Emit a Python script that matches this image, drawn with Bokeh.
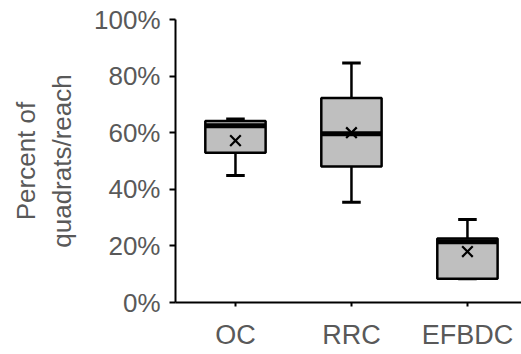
from bokeh.plotting import figure
from bokeh.models import Range1d, FixedTicker, NumeralTickFormatter
from bokeh.embed import file_html
from bokeh.resources import INLINE

categories = ["OC", "RRC", "EFBDC"]
whisker_low = [0.449, 0.354, 0.084]
q1 = [0.529, 0.481, 0.084]
median = [0.625, 0.596, 0.215]
q3 = [0.641, 0.723, 0.226]
whisker_high = [0.648, 0.846, 0.293]
mean = [0.572, 0.600, 0.180]
y_ticks = [0, 0.2, 0.4, 0.6, 0.8, 1.0]

pos = list(range(len(categories)))

p = figure(width=521, height=354, output_backend="svg", toolbar_location=None,
           x_range=Range1d(-0.517, 2.466), y_range=Range1d(0, 1),
           min_border_left=175, min_border_top=19, min_border_right=0,
           min_border_bottom=52)
p.outline_line_color = None
p.grid.grid_line_color = None
p.background_fill_color = "white"

box_w = 0.52
cap_w = 0.16

# whiskers
p.segment(x0=pos, y0=q3, x1=pos, y1=whisker_high, line_color="black", line_width=2.5)
p.segment(x0=pos, y0=whisker_low, x1=pos, y1=q1, line_color="black", line_width=2.5)
p.segment(x0=[x - cap_w / 2 for x in pos], y0=whisker_high,
          x1=[x + cap_w / 2 for x in pos], y1=whisker_high, line_color="black", line_width=3)
p.segment(x0=[x - cap_w / 2 for x in pos], y0=whisker_low,
          x1=[x + cap_w / 2 for x in pos], y1=whisker_low, line_color="black", line_width=3)
# boxes
p.vbar(x=pos, width=box_w, bottom=q1, top=q3, fill_color="#bfbfbf",
       line_color="black", line_width=2.5)
# medians
p.segment(x0=[x - box_w / 2 for x in pos], y0=median,
          x1=[x + box_w / 2 for x in pos], y1=median, line_color="black", line_width=5)
# means
p.scatter(x=pos, y=mean, marker="x", size=15, line_color="black", line_width=2.2)

font = "Liberation Sans"
gray = "#595959"

p.xaxis.ticker = FixedTicker(ticks=pos)
p.xaxis.major_label_overrides = {i: c for i, c in zip(pos, categories)}
p.xaxis.major_label_text_font = font
p.xaxis.major_label_text_font_size = "27px"
p.xaxis.major_label_text_color = gray
p.xaxis.major_tick_out = 4
p.xaxis.major_tick_in = 0
p.xaxis.minor_tick_line_color = None
p.xaxis.major_label_standoff = 13

p.yaxis.ticker = FixedTicker(ticks=y_ticks)
p.yaxis.formatter = NumeralTickFormatter(format="0%")
p.yaxis.major_label_text_font = font
p.yaxis.major_label_text_font_size = "26px"
p.yaxis.major_label_text_color = gray
p.yaxis.major_tick_out = 6
p.yaxis.major_tick_in = 0
p.yaxis.minor_tick_line_color = None
p.yaxis.major_label_standoff = 9
p.yaxis.axis_label = "Percent of\nquadrats/reach"
p.yaxis.axis_label_text_font = font
p.yaxis.axis_label_text_font_size = "26px"
p.yaxis.axis_label_text_font_style = "normal"
p.yaxis.axis_label_text_color = gray
p.yaxis.axis_label_standoff = 14

for ax in (p.xaxis, p.yaxis):
    ax.axis_line_color = "black"
    ax.axis_line_width = 2
    ax.major_tick_line_color = "black"
    ax.major_tick_line_width = 2

open("out.html", "w").write(file_html(p, INLINE))
